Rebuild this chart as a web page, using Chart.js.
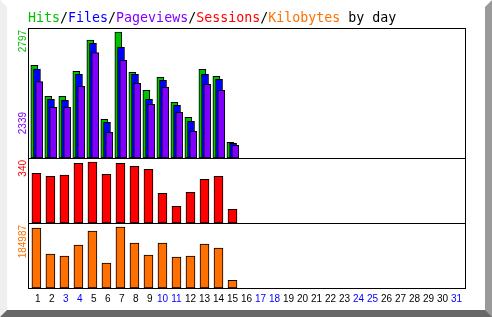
<!DOCTYPE html>
<html>
<head>
<meta charset="utf-8">
<script src="https://cdn.jsdelivr.net/npm/chart.js@4/dist/chart.umd.min.js"></script>
<style>
  html, body { margin: 0; padding: 0; background: #fff; }
  #wrap { position: relative; width: 492px; height: 317px; overflow: hidden; }
  #frame {
    position: absolute; left: 0; top: 0; width: 492px; height: 317px; box-sizing: border-box;
    border-left: 7px solid #efefef; border-top: 7px solid #fff;
    border-right: 7px solid #9a9a9a; border-bottom: 7px solid #686868;
  }
  #title {
    position: absolute; left: 28px; top: 10px; white-space: pre;
    font: 13.3px "DejaVu Sans Mono", monospace; color: #000;
  }
  canvas { position: absolute; left: 0; top: 0; }
</style>
</head>
<body>
<div id="wrap">
  <div id="frame"></div>
  <canvas id="chart" width="492" height="317"></canvas>
  <div id="title"><span style="color:#00c000">Hits</span>/<span style="color:#0000ff">Files</span>/<span style="color:#8000ff">Pageviews</span>/<span style="color:#ff0000">Sessions</span>/<span style="color:#ff7000">Kilobytes</span> by day</div>
</div>
<script>
// --- DATA ---
const days = Array.from({ length: 31 }, (_, i) => i + 1);
const weekendDays = [3, 4, 10, 11, 17, 18, 24, 25, 31];
const hits      = [2058, 1370, 1370, 1924, 2619, 859, 2797, 1902, 1502, 1791, 1236, 903, 1969, 1813, 348];
const files     = [1976, 1303, 1281, 1857, 2546, 792, 2457, 1857, 1303, 1725, 1170, 815, 1857, 1747, 326];
const pageviews = [1694, 1125, 1125, 1591, 2339, 570, 2168, 1658, 1192, 1569, 1014, 593, 1636, 1503, 282];
const sessions  = [277, 260, 267, 333, 340, 271, 333, 316, 299, 165, 93, 171, 243, 260, 76];
const kbytes    = [181900, 102700, 96600, 130100, 172800, 75300, 184987, 136200, 99600, 136200, 93500, 96600, 133200, 121000, 23500];

const GREEN = '#00c000', BLUE = '#0000ff', PURPLE = '#8000ff', RED = '#ff0000', ORANGE = '#ff7000';

const hitsMax = Math.max(...hits);
const pagesMax = Math.max(...pageviews);
const sessMax = Math.max(...sessions);
const kbMax = Math.max(...kbytes);

// headroom above the tallest bar in each panel
const yHMax = hitsMax * 130 / 126;
const ySMax = sessMax * 65 / 61;
const yKMax = kbMax * 65 / 61;

const pts = arr => arr.map((v, i) => ({ x: days[i], y: v }));

const barStyle = (color, w) => ({
    backgroundColor: color, borderColor: '#000', borderWidth: 1, borderSkipped: false,
    grouped: false, maxBarThickness: w, barPercentage: 1, categoryPercentage: 1
});

// side label ticks: top label just under the panel top, plus the max tick for the separator line
function sideAxis(max, weight, labels) {
    return {
        type: 'linear', position: 'left', stack: 'v', stackWeight: weight,
        min: 0, max: max,
        afterBuildTicks: s => {
            s.ticks = labels.map(l => ({ value: max * l.at })).concat([{ value: max }]);
        },
        afterFit: s => { s.width = 28; },
        ticks: {
            autoSkip: false, minRotation: 90, maxRotation: 90, padding: 5,
            font: { size: 10 },
            color: c => c.index < labels.length ? labels[c.index].color : 'rgba(0,0,0,0)',
            callback: (v, i) => i < labels.length ? labels[i].text : ''
        },
        grid: {
            drawTicks: false, lineWidth: 1,
            color: c => (c.tick && c.tick.value === max) ? '#000' : 'rgba(0,0,0,0)'
        },
        border: { display: true, color: '#000' }
    };
}

const dayMin = 0.4, dayMax = 31.6;
// shifted copies of the day axis so the three top bars overlap with a small offset
const shiftedX = shift => ({
    type: 'linear', position: 'top', offset: false, min: dayMin - shift, max: dayMax - shift,
    afterFit: s => { s.height = 0; },
    ticks: { display: false },
    grid: { display: false, drawTicks: false, offset: false },
    border: { display: false }
});

new Chart(document.getElementById('chart'), {
    type: 'bar',
    data: {
        datasets: [
            { label: 'Pageviews', data: pts(pageviews), xAxisID: 'xP', yAxisID: 'yH', order: 0, ...barStyle(PURPLE, 7) },
            { label: 'Files', data: pts(files), xAxisID: 'xF', yAxisID: 'yH', order: 1, ...barStyle(BLUE, 7) },
            { label: 'Hits', data: pts(hits), xAxisID: 'xG', yAxisID: 'yH', order: 2, ...barStyle(GREEN, 7) },
            { label: 'Sessions', data: pts(sessions), xAxisID: 'x', yAxisID: 'yS', ...barStyle(RED, 9) },
            { label: 'Kilobytes', data: pts(kbytes), xAxisID: 'x', yAxisID: 'yK', ...barStyle(ORANGE, 9) }
        ]
    },
    options: {
        responsive: false,
        animation: false,
        layout: { padding: { top: 28, left: 0, right: 0, bottom: 7 } },
        plugins: { legend: { display: false }, title: { display: false }, tooltip: { enabled: false } },
        scales: {
            x: {
                type: 'linear', position: 'bottom', offset: false, min: dayMin, max: dayMax,
                afterBuildTicks: s => { s.ticks = days.map(d => ({ value: d })); },
                afterFit: s => { s.height = 22; },
                ticks: {
                    autoSkip: false, maxRotation: 0, padding: 5, font: { size: 10 },
                    color: c => weekendDays.includes(c.tick.value) ? '#0000ff' : '#000',
                    callback: v => String(v).padStart(2, ' ')
                },
                grid: { display: false, drawTicks: false, offset: false },
                border: { display: true, color: '#000' }
            },
            xG: shiftedX(-0.15),
            xF: shiftedX(0.04),
            xP: shiftedX(0.2),
            yK: sideAxis(yKMax, 1, [{ at: 63 / 65, text: String(kbMax), color: ORANGE }]),
            yS: sideAxis(ySMax, 1, [{ at: 63 / 65, text: String(sessMax), color: RED }]),
            yH: sideAxis(yHMax, 2, [
                { at: 128 / 130, text: String(hitsMax), color: GREEN },
                { at: 46 / 130, text: String(pagesMax), color: PURPLE }
            ]),
            yR: {
                type: 'linear', position: 'right', min: 0, max: 1,
                afterFit: s => { s.width = 27; },
                ticks: { display: false },
                grid: { display: false, drawTicks: false },
                border: { display: true, color: '#000' }
            }
        }
    }
});
</script>
</body>
</html>
